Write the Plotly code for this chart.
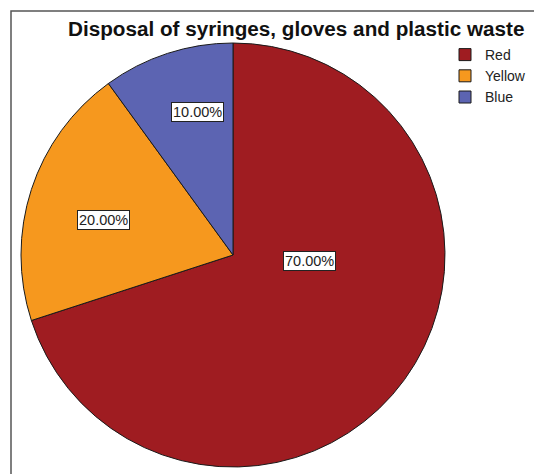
import math
import plotly.graph_objects as go

# ---- data ----
categories = ["Red", "Yellow", "Blue"]
values = [70, 20, 10]
title_text = "Disposal of syringes, gloves and plastic waste"

# ---- style ----
colors = ["#9F1C21", "#F6981E", "#5C64B2"]
# label placement: (angle clockwise from 12 o'clock in degrees, fraction of radius)
label_place = [(94.5, 0.364), (284.9, 0.634), (346.1, 0.697)]

W, H = 534, 474
cx_px, cy_px, r_px = 233, 255, 212

fig = go.Figure()
fig.add_trace(go.Pie(
    labels=categories,
    values=values,
    sort=False,
    direction="clockwise",
    rotation=0,
    marker=dict(colors=colors, line=dict(color="#1a1a1a", width=1)),
    textinfo="none",
    hoverinfo="label+percent",
    domain=dict(x=[(cx_px - r_px) / W, (cx_px + r_px) / W],
                y=[(H - cy_px - r_px) / H, (H - cy_px + r_px) / H]),
))

total = sum(values)
annotations = []
for v, (ang, frac) in zip(values, label_place):
    a = math.radians(ang)
    x_px = cx_px + math.sin(a) * frac * r_px
    y_px = cy_px - math.cos(a) * frac * r_px
    annotations.append(dict(
        x=x_px / W, y=1 - y_px / H, xref="paper", yref="paper",
        xanchor="center", yanchor="middle",
        text=f"{100 * v / total:.2f}%", showarrow=False,
        font=dict(family="Liberation Sans, Arial", size=14.5, color="#222"),
        bgcolor="white", bordercolor="#222", borderwidth=1, borderpad=1,
    ))

fig.update_layout(
    width=W, height=H,
    margin=dict(l=0, r=0, t=0, b=0),
    paper_bgcolor="white",
    plot_bgcolor="white",
    title=dict(text=f"<b>{title_text}</b>", x=68 / W, xanchor="left", xref="container",
               y=1 - 29 / H, yanchor="middle", yref="container",
               font=dict(family="Liberation Sans, Arial", size=20.7, color="#111")),
    legend=dict(x=445 / W, y=1 - 39 / H, xanchor="left", yanchor="top",
                font=dict(family="Liberation Sans, Arial", size=14, color="#222"),
                bgcolor="rgba(0,0,0,0)", itemwidth=30, tracegroupgap=0),
    annotations=annotations,
    shapes=[dict(type="rect", xref="paper", yref="paper",
                 x0=11 / W, x1=1.05, y0=-0.05, y1=1 - 11 / H,
                 line=dict(color="#555", width=1.5), fillcolor="rgba(0,0,0,0)",
                 layer="below")],
)

fig.write_html("out.html")
